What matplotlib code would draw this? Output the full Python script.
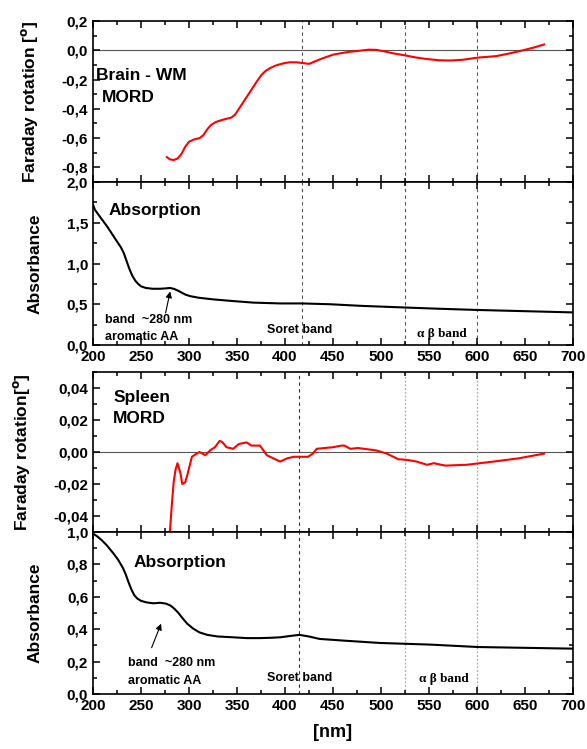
import matplotlib
matplotlib.use("Agg")
import matplotlib.pyplot as plt
from matplotlib.ticker import MultipleLocator, FuncFormatter

plt.rcParams['font.family'] = ['Liberation Sans', 'DejaVu Sans']
plt.rcParams['font.weight'] = 'bold'

# ---- Data ----
brain_mord_nm = [277, 280, 284, 288, 292, 296, 300, 305, 311, 315, 319, 323, 328, 335, 344, 348, 352, 356,
                 360, 364, 368, 372, 376, 380, 385, 390, 395, 400, 405, 412, 418, 425, 437, 450, 460, 468,
                 478, 487, 495, 503, 512, 525, 537, 548, 560, 572, 585, 601, 620, 635, 648, 660, 670]
brain_mord_val = [-0.73, -0.745, -0.75, -0.74, -0.71, -0.66, -0.625, -0.61, -0.60, -0.58, -0.54, -0.51,
                  -0.49, -0.475, -0.46, -0.44, -0.40, -0.36, -0.32, -0.28, -0.24, -0.20, -0.165, -0.14,
                  -0.12, -0.105, -0.095, -0.087, -0.082, -0.082, -0.087, -0.093, -0.06, -0.03, -0.018,
                  -0.01, -0.003, 0.004, 0.003, -0.007, -0.02, -0.035, -0.05, -0.06, -0.068, -0.07, -0.065,
                  -0.05, -0.04, -0.02, 0.0, 0.02, 0.04]

brain_abs_nm = [200, 202, 205, 210, 215, 220, 225, 229, 232, 235, 238, 241, 244, 247, 250, 255, 262, 270,
                276, 280, 284, 288, 292, 296, 301, 310, 325, 345, 367, 395, 418, 447, 480, 525, 560, 600,
                650, 700]
brain_abs_val = [1.72, 1.66, 1.61, 1.53, 1.45, 1.36, 1.27, 1.20, 1.13, 1.03, 0.93, 0.85, 0.79, 0.75, 0.72,
                 0.70, 0.69, 0.69, 0.695, 0.70, 0.69, 0.67, 0.645, 0.62, 0.60, 0.58, 0.56, 0.54, 0.52,
                 0.51, 0.51, 0.50, 0.48, 0.46, 0.445, 0.43, 0.415, 0.40]

spleen_mord_nm = [279.5, 282, 284, 286, 288, 291, 293, 296, 298, 303, 308, 311, 317, 322, 327, 332, 335, 339,
                  346, 352, 360, 365, 374, 381, 388, 395, 402, 409, 415, 424, 429, 433, 450, 459, 462, 468,
                  476, 495, 506, 518, 528, 537, 548, 555, 567, 589, 617, 643, 670]
spleen_mord_val = [-0.055, -0.034, -0.019, -0.011, -0.007, -0.013, -0.02, -0.019, -0.015, -0.003, -0.001,
                   0.0, -0.002, 0.001, 0.003, 0.007, 0.006, 0.003, 0.002, 0.005, 0.006, 0.004, 0.004,
                   -0.002, -0.004, -0.006, -0.004, -0.003, -0.003, -0.003, -0.001, 0.002, 0.003, 0.004,
                   0.004, 0.002, 0.0025, 0.001, -0.001, -0.0045, -0.005, -0.006, -0.008, -0.007, -0.0085,
                   -0.008, -0.006, -0.004, -0.001]

spleen_abs_nm = [200, 204, 209, 214, 221, 226, 231, 234, 237, 240, 243, 246, 250, 256, 263, 270, 276, 281,
                 285, 289, 293, 298, 304, 311, 319, 330, 346, 360, 374, 385, 395, 405, 415, 425, 436, 460,
                 499, 551, 601, 650, 700]
spleen_abs_val = [0.99, 0.975, 0.95, 0.92, 0.87, 0.83, 0.78, 0.74, 0.69, 0.645, 0.61, 0.59, 0.575, 0.565,
                  0.56, 0.563, 0.558, 0.545, 0.525, 0.50, 0.47, 0.435, 0.405, 0.38, 0.365, 0.355, 0.35,
                  0.345, 0.345, 0.347, 0.35, 0.358, 0.365, 0.355, 0.34, 0.33, 0.315, 0.305, 0.29, 0.285,
                  0.28]

brain_lines = [418, 525, 600]
spleen_lines = [415, 525, 600]

fig = plt.figure(figsize=(5.87, 7.49), dpi=100)
L, W = 93/587, 480/587

def pos(top, bot):
    return [L, 1 - bot/749, W, (bot - top)/749]

ax1 = fig.add_axes(pos(21, 182))
ax2 = fig.add_axes(pos(182, 345))
ax3 = fig.add_axes(pos(372, 532))
ax4 = fig.add_axes(pos(532, 694))

def comma(dec):
    def f(v, p):
        if abs(v) < 1e-12:
            v = 0.0
        return f"{v:.{dec}f}".replace('.', ',')
    return FuncFormatter(f)

def style(ax, ylim, major, minor, dec, xlabels, yticks=None):
    ax.set_xlim(200, 700)
    ax.set_ylim(*ylim)
    ax.xaxis.set_major_locator(MultipleLocator(50))
    ax.xaxis.set_minor_locator(MultipleLocator(25))
    if yticks is not None:
        ax.set_yticks(yticks)
    else:
        ax.yaxis.set_major_locator(MultipleLocator(major))
    ax.yaxis.set_minor_locator(MultipleLocator(minor))
    ax.yaxis.set_major_formatter(comma(dec))
    ax.tick_params(which='both', direction='in', top=True, right=True, width=1.1, labelsize=11)
    ax.tick_params(which='major', length=5)
    ax.tick_params(which='minor', length=3)
    if not xlabels:
        ax.tick_params(axis='x', labelbottom=False)
    for s in ax.spines.values():
        s.set_linewidth(1.2)
    for lab in ax.get_xticklabels() + ax.get_yticklabels():
        lab.set_fontweight('bold')

style(ax1, (-0.9, 0.2), 0.2, 0.1, 1, False, [-0.8, -0.6, -0.4, -0.2, 0.0, 0.2])
style(ax2, (0, 2.0), 0.5, 0.25, 1, True)
style(ax3, (-0.05, 0.05), 0.02, 0.01, 2, False, [-0.04, -0.02, 0.0, 0.02, 0.04])
style(ax4, (0, 1.0), 0.2, 0.1, 1, True)

# zero lines
ax1.axhline(0, color='#555555', lw=0.8, zorder=1)
ax3.axhline(0, color='#555555', lw=0.8, zorder=1)

# vertical band lines
for ax in (ax1, ax2):
    for x in brain_lines:
        ax.axvline(x, color='#555555', lw=0.8, ls=(0, (3, 3)), zorder=1)
for ax in (ax3, ax4):
    ax.axvline(spleen_lines[0], color='#333333', lw=0.8, ls=(0, (3, 3)), zorder=1)
    for x in spleen_lines[1:]:
        ax.axvline(x, color='#aaaaaa', lw=0.9, ls=(0, (1.5, 1.5)), zorder=1)

# curves
ax1.plot(brain_mord_nm, brain_mord_val, color='red', lw=1.5)
ax2.plot(brain_abs_nm, brain_abs_val, color='black', lw=1.5)
ax3.plot(spleen_mord_nm, spleen_mord_val, color='red', lw=1.5)
ax4.plot(spleen_abs_nm, spleen_abs_val, color='black', lw=1.5)

# texts
ax1.text(203, -0.17, "Brain - WM", fontsize=12.5, fontweight='bold', va='center')
ax1.text(209, -0.32, "MORD", fontsize=12.5, fontweight='bold', va='center')
ax2.text(216, 1.65, "Absorption", fontsize=12.5, fontweight='bold', va='center')
ax2.text(213, 0.31, "band  ~280 nm", fontsize=9, fontweight='bold', va='center')
ax2.text(213, 0.10, "aromatic AA", fontsize=9, fontweight='bold', va='center')
ax2.annotate("", xy=(281, 0.69), xytext=(275, 0.36),
             arrowprops=dict(arrowstyle='-|>', color='black', lw=0.8, mutation_scale=9))
ax2.text(381, 0.19, "Soret band", fontsize=9, fontweight='bold', va='center')
ax2.text(537, 0.13, "\u03b1 \u03b2 band", fontsize=9.5, fontweight='bold', va='center',
         family=['Liberation Serif', 'DejaVu Serif'])

ax3.text(221, 0.034, "Spleen", fontsize=12.5, fontweight='bold', va='center')
ax3.text(221, 0.021, "MORD", fontsize=12.5, fontweight='bold', va='center')
ax4.text(242, 0.81, "Absorption", fontsize=12.5, fontweight='bold', va='center')
ax4.text(236, 0.19, "band  ~280 nm", fontsize=9, fontweight='bold', va='center')
ax4.text(236, 0.08, "aromatic AA", fontsize=9, fontweight='bold', va='center')
ax4.annotate("", xy=(272, 0.45), xytext=(260, 0.27),
             arrowprops=dict(arrowstyle='-|>', color='black', lw=0.8, mutation_scale=9))
ax4.text(381, 0.10, "Soret band", fontsize=9, fontweight='bold', va='center')
ax4.text(540, 0.09, "\u03b1 \u03b2 band", fontsize=9.5, fontweight='bold', va='center',
         family=['Liberation Serif', 'DejaVu Serif'])

# axis labels
ax1.set_ylabel("Faraday rotation [$\\mathbf{^o}$]", fontsize=12.5, fontweight='bold')
ax1.yaxis.set_label_coords(-0.11, 0.5)
ax2.set_ylabel("Absorbance", fontsize=12.5, fontweight='bold')
ax2.yaxis.set_label_coords(-0.106, 0.5)
ax3.set_ylabel("Faraday rotation[$\\mathbf{^o}$]", fontsize=12.5, fontweight='bold')
ax3.yaxis.set_label_coords(-0.127, 0.5)
ax4.set_ylabel("Absorbance", fontsize=12.5, fontweight='bold')
ax4.yaxis.set_label_coords(-0.106, 0.5)
ax4.set_xlabel("[nm]", fontsize=13, fontweight='bold', labelpad=8)

fig.savefig("out.png", dpi=100)
